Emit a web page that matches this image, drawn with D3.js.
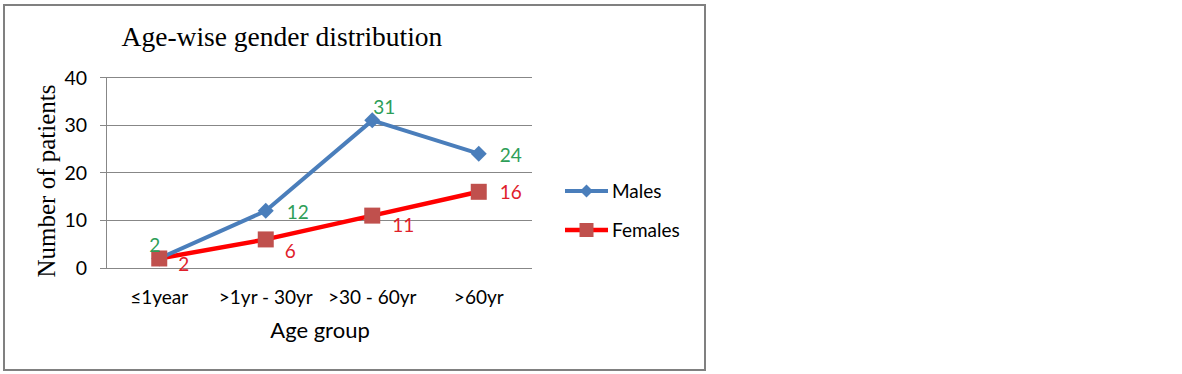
<!DOCTYPE html>
<html>
<head>
<meta charset="utf-8">
<script src="https://cdn.jsdelivr.net/npm/d3@7"></script>
<style>
  html, body { margin: 0; padding: 0; background: #fff; }
  svg { display: block; }
</style>
</head>
<body>
<svg id="chart" width="1182" height="374"></svg>
<script>
// ---- Data ----
const categories = ["\u22641year", ">1yr - 30yr", ">30 - 60yr", ">60yr"];
const males = [2, 12, 31, 24];
const females = [2, 6, 11, 16];
const yTicks = [0, 10, 20, 30, 40];
const titleText = "Age-wise gender distribution";
const xTitle = "Age group";
const yTitle = "Number of patients";

// ---- Style ----
const sans = "Lato, 'Open Sans', sans-serif";
const serif = "'Liberation Serif', 'DejaVu Serif', serif";
const maleColor = "#4a7ebb";
const femaleLine = "#ff0000";
const femaleMarker = "#c0504d";
const maleLabel = "#2e9e58";
const femaleLabel = "#e0202a";
// label offsets relative to the point (dx, dy), anchor start
const maleOffsets = [[-10, -13], [21, 1], [1, -13], [21, 1]];
const femaleOffsets = [[19, 6], [19, 12], [20, 10], [21, 0]];

const svg = d3.select("#chart");

// outer border
svg.append("rect").attr("x", 4).attr("y", 5).attr("width", 701).attr("height", 365)
  .attr("fill", "#fff").attr("stroke", "#808080").attr("stroke-width", 2);

const x = d3.scaleBand().domain(categories).range([106, 532]);
const y = d3.scaleLinear().domain([0, 40]).range([268, 77.5]);
const cx = c => x(c) + x.bandwidth() / 2;

// gridlines
svg.append("g").selectAll("line").data(yTicks).join("line")
  .attr("x1", 100).attr("x2", 532)
  .attr("y1", d => y(d)).attr("y2", d => y(d))
  .attr("stroke", "#878787").attr("stroke-width", 1).attr("shape-rendering", "crispEdges");

// y axis line
svg.append("line").attr("x1", 106).attr("x2", 106).attr("y1", y(40)).attr("y2", y(0))
  .attr("stroke", "#878787").attr("stroke-width", 1).attr("shape-rendering", "crispEdges");

// y tick labels
svg.append("g").selectAll("text").data(yTicks).join("text")
  .attr("x", 87).attr("y", d => y(d)).attr("dy", "0.36em")
  .attr("text-anchor", "end").attr("font-family", sans).attr("font-size", 19.5)
  .attr("fill", "#000").text(d => d);

// x category labels
svg.append("g").selectAll("text").data(categories).join("text")
  .attr("x", d => cx(d)).attr("y", 297).attr("dy", "0.36em")
  .attr("text-anchor", "middle").attr("font-family", sans).attr("font-size", 19)
  .attr("fill", "#000").text(d => d);

// titles
svg.append("text").attr("x", 282).attr("y", 36).attr("dy", "0.35em")
  .attr("text-anchor", "middle").attr("font-family", serif).attr("font-size", 27.5)
  .text(titleText);
svg.append("text").attr("x", 320).attr("y", 330).attr("dy", "0.35em")
  .attr("text-anchor", "middle").attr("font-family", sans).attr("font-size", 22)
  .text(xTitle);
svg.append("text").attr("transform", "translate(46,181) rotate(-90)").attr("dy", "0.35em")
  .attr("text-anchor", "middle").attr("font-family", serif).attr("font-size", 25)
  .text(yTitle);

const line = d3.line().x((d, i) => cx(categories[i])).y(d => y(d));

// female line
svg.append("path").datum(females).attr("d", line).attr("fill", "none")
  .attr("stroke", femaleLine).attr("stroke-width", 4.5).attr("stroke-linejoin", "round");
// male line
svg.append("path").datum(males).attr("d", line).attr("fill", "none")
  .attr("stroke", maleColor).attr("stroke-width", 4).attr("stroke-linejoin", "round");

const diamond = s => `M0,${-s}L${s},0L0,${s}L${-s},0Z`;
svg.append("g").selectAll("path").data(males).join("path")
  .attr("transform", (d, i) => `translate(${cx(categories[i])},${y(d)})`)
  .attr("d", diamond(8)).attr("fill", maleColor);
svg.append("g").selectAll("rect").data(females).join("rect")
  .attr("x", (d, i) => cx(categories[i]) - 8).attr("y", d => y(d) - 8)
  .attr("width", 16).attr("height", 16).attr("fill", femaleMarker);

// data labels
svg.append("g").selectAll("text").data(males).join("text")
  .attr("x", (d, i) => cx(categories[i]) + maleOffsets[i][0])
  .attr("y", (d, i) => y(d) + maleOffsets[i][1]).attr("dy", "0.36em")
  .attr("font-family", sans).attr("font-size", 19).attr("fill", maleLabel).text(d => d);
svg.append("g").selectAll("text").data(females).join("text")
  .attr("x", (d, i) => cx(categories[i]) + femaleOffsets[i][0])
  .attr("y", (d, i) => y(d) + femaleOffsets[i][1]).attr("dy", "0.36em")
  .attr("font-family", sans).attr("font-size", 19).attr("fill", femaleLabel).text(d => d);

// legend
const legend = [
  { name: "Males", color: maleColor, width: 4, marker: "diamond", y: 191 },
  { name: "Females", color: femaleLine, width: 4.5, marker: "square", y: 230 }
];
const lg = svg.append("g").selectAll("g").data(legend).join("g")
  .attr("transform", d => `translate(0,${d.y})`);
lg.append("line").attr("x1", 565).attr("x2", 608).attr("y1", 0).attr("y2", 0)
  .attr("stroke", d => d.color).attr("stroke-width", d => d.width);
lg.filter(d => d.marker === "diamond").append("path")
  .attr("transform", "translate(586.5,0)").attr("d", diamond(6.5)).attr("fill", maleColor);
lg.filter(d => d.marker === "square").append("rect")
  .attr("x", 579.5).attr("y", -7).attr("width", 14).attr("height", 14).attr("fill", femaleMarker);
lg.append("text").attr("x", 612).attr("y", 0).attr("dy", "0.36em")
  .attr("font-family", sans).attr("font-size", 19).text(d => d.name);
</script>
</body>
</html>
